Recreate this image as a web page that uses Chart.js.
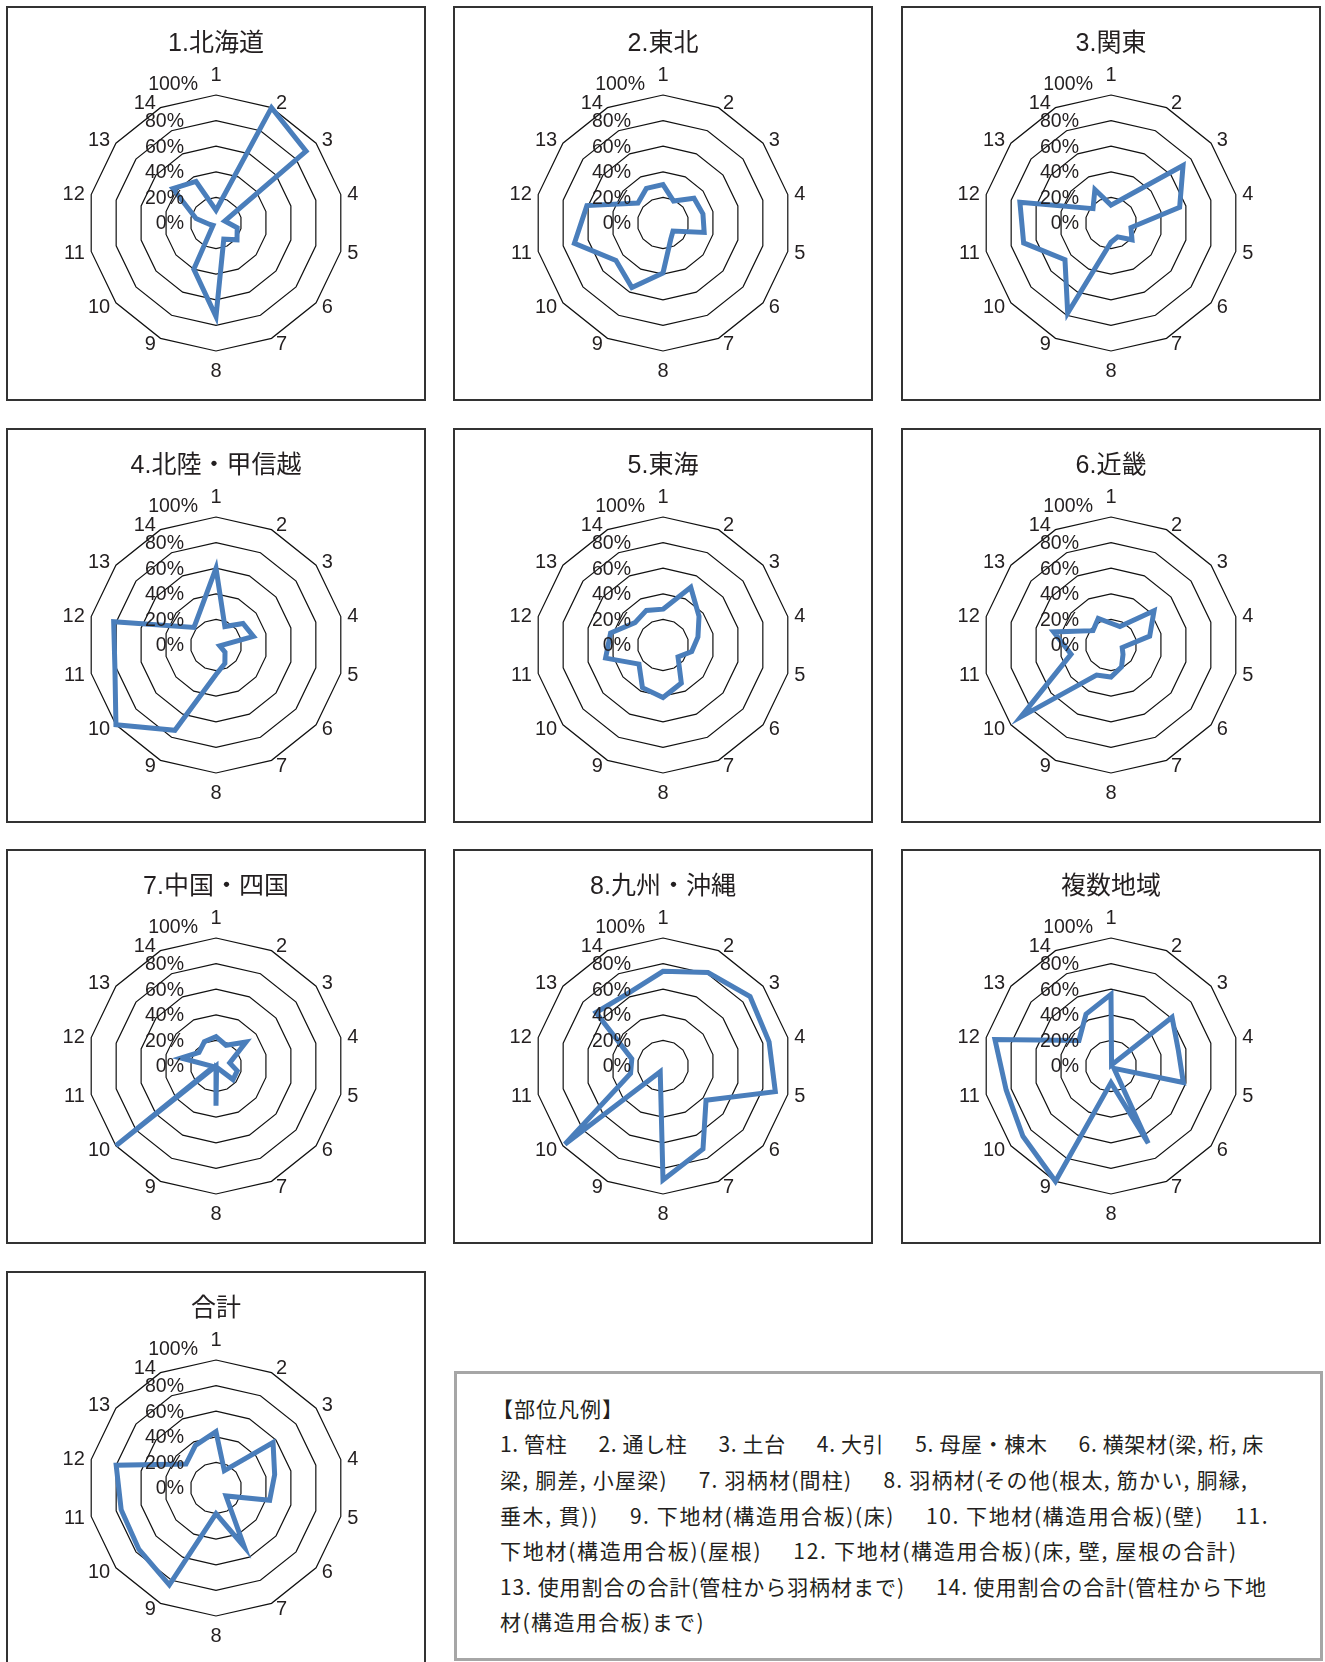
<!DOCTYPE html>
<html lang="ja">
<head>
<meta charset="utf-8">
<title>地域別 部位別使用割合</title>
<script src="https://cdn.jsdelivr.net/npm/chart.js@4.4.1/dist/chart.umd.min.js"></script>
<style>
  html, body { margin: 0; padding: 0; background: #fff; }
  body { width: 1325px; height: 1662px; position: relative; overflow: hidden; font-family: "Noto Sans CJK JP", sans-serif; color: #231f20; }
  .panel { position: absolute; width: 420px; height: 395px; box-sizing: border-box; border: 2px solid #333; background: #fff; }
  .panel canvas { position: absolute; left: 0; top: 0; }
  #legend { position: absolute; left: 454px; top: 1371px; width: 869px; height: 290px; box-sizing: border-box; border: 3px solid #a6a6a6; }
  .ln { position: absolute; left: 43px; white-space: nowrap; font-size: 21px; line-height: 36px; }
  .gap { display: inline-block; width: 31px; }
</style>
</head>
<body>

<div id="legend">
  <div class="ln" style="top:16px; left:35px; letter-spacing:1px">【部位凡例】</div>
  <div class="ln" style="top:51px" data-right="1264">1. 管柱<span class="gap"></span>2. 通し柱<span class="gap"></span>3. 土台<span class="gap"></span>4. 大引<span class="gap"></span>5. 母屋・棟木<span class="gap"></span>6. 横架材(梁, 桁, 床</div>
  <div class="ln" style="top:87px" data-right="1248">梁, 胴差, 小屋梁)<span class="gap"></span>7. 羽柄材(間柱)<span class="gap"></span>8. 羽柄材(その他(根太, 筋かい, 胴縁,</div>
  <div class="ln" style="top:123px" data-right="1269">垂木, 貫))<span class="gap"></span>9. 下地材(構造用合板)(床)<span class="gap"></span>10. 下地材(構造用合板)(壁)<span class="gap"></span>11.</div>
  <div class="ln" style="top:158px" data-right="1238">下地材(構造用合板)(屋根)<span class="gap"></span>12. 下地材(構造用合板)(床, 壁, 屋根の合計)</div>
  <div class="ln" style="top:194px" data-right="1267">13. 使用割合の合計(管柱から羽柄材まで)<span class="gap"></span>14. 使用割合の合計(管柱から下地</div>
  <div class="ln" style="top:229px" data-right="705">材(構造用合板)まで)</div>
</div>

<script>
// 部位 1..14 and the radial tick labels
const partLabels = ['1', '2', '3', '4', '5', '6', '7', '8', '9', '10', '11', '12', '13', '14'];
const tickLabels = ['0%', '20%', '40%', '60%', '80%', '100%'];

const titles = ['1.北海道', '2.東北', '3.関東', '4.北陸・甲信越', '5.東海', '6.近畿',
                '7.中国・四国', '8.九州・沖縄', '複数地域', '合計'];

// use ratio (%) per part
const hokkaido = [10, 100, 90, 7, 17, 21, 14, 73, 40, 3, 5, 16, 43, 36];
const tohoku   = [30, 19, 31, 32, 33, 10, 14, 39, 56, 47, 71, 61, 25, 30];
const kanto    = [14, 21, 72, 55, 16, 21, 12, 15, 78, 46, 70, 73, 18, 29];
const hokuriku = [60, 16, 27, 30, 3, 9, 16, 23, 74, 100, 81, 82, 22, 29];
const tokai    = [28, 50, 36, 28, 23, 15, 33, 41, 37, 24, 46, 42, 28, 30];
const kinki    = [17, 16, 43, 31, 9, 12, 19, 25, 26, 90, 32, 46, 18, 23];
const chugoku  = [23, 18, 30, 11, 17, 17, 1, 31, 0, 100, 2, 28, 17, 21];
const kyushu   = [74, 81, 87, 85, 90, 43, 72, 89, 5, 98, 26, 25, 67, 63];
const multi    = [56, 1, 61, 54, 58, 3, 67, 13, 100, 88, 84, 93, 32, 45];
const total    = [44, 15, 57, 47, 43, 10, 51, 20, 84, 77, 76, 80, 30, 37];

const seriesList = [hokkaido, tohoku, kanto, hokuriku, tokai, kinki, chugoku, kyushu, multi, total];

const colLefts = [6, 453, 901];
const rowTops = [6, 428, 849, 1271];

const numFont = '"Liberation Sans", "Noto Sans CJK JP", sans-serif';

// tick labels sit left of the vertical axis, part numbers just outside the outer ring
const radarText = {
  id: 'radarText',
  afterDraw(chart) {
    const r = chart.scales.r;
    const ctx = chart.ctx;
    const R = r.drawingArea;
    ctx.save();
    ctx.fillStyle = '#231f20';
    ctx.textBaseline = 'middle';

    ctx.font = '19.5px ' + numFont;
    ctx.textAlign = 'right';
    r.ticks.forEach((t, i) => {
      const d = r.getDistanceFromCenterForValue(t.value);
      const last = i === r.ticks.length - 1;
      const x = r.xCenter - (last ? 18 : 32);
      const y = r.yCenter - d + (last ? -10 : 1);
      ctx.fillText(tickLabels[i], x, y);
    });

    ctx.font = '20px ' + numFont;
    ctx.textAlign = 'center';
    partLabels.forEach((lab, i) => {
      const p = r.getPointPosition(i, R);
      const w = ctx.measureText(lab).width;
      const cx = Math.cos(p.angle), cy = Math.sin(p.angle);
      let dx = 0, dy;
      if (Math.abs(cx) < 0.01) {
        dy = cy * 20;
      } else {
        dx = Math.sign(cx) * (w / 2 + 3 + 3.5 * Math.abs(cx));
        dy = cy * 6 + 1;
      }
      ctx.fillText(lab, p.x + dx, p.y + dy);
    });
    ctx.restore();
  }
};

seriesList.forEach((values, k) => {
  const panel = document.createElement('div');
  panel.className = 'panel';
  panel.style.left = colLefts[k % 3] + 'px';
  panel.style.top = rowTops[Math.floor(k / 3)] + 'px';
  const canvas = document.createElement('canvas');
  canvas.width = 416;
  canvas.height = 391;
  panel.appendChild(canvas);
  document.body.appendChild(panel);

  new Chart(canvas, {
    type: 'radar',
    data: {
      labels: partLabels,
      datasets: [{
        data: values,
        borderColor: '#4a7ebb',
        borderWidth: 5,
        borderJoinStyle: 'miter',
        backgroundColor: 'rgba(0,0,0,0)',
        fill: false,
        pointRadius: 0,
        tension: 0,
        clip: false
      }]
    },
    options: {
      responsive: false,
      animation: false,
      devicePixelRatio: 1,
      layout: { padding: { left: 80, right: 80, top: 0, bottom: 48 } },
      plugins: {
        legend: { display: false },
        tooltip: { enabled: false },
        title: {
          display: true,
          text: titles[k],
          color: '#231f20',
          font: { family: numFont, size: 25, weight: 'normal' },
          padding: { top: 21, bottom: 36 }
        }
      },
      scales: {
        r: {
          min: 0,
          max: 100,
          startAngle: 0,
          ticks: { stepSize: 20, display: false },
          pointLabels: { display: false },
          angleLines: { display: false },
          grid: { circular: false, color: '#111', lineWidth: 1.2 }
        }
      }
    },
    plugins: [radarText]
  });
});

// stretch each legend line so it ends where the original wraps
document.querySelectorAll('.ln[data-right]').forEach(el => {
  const target = +el.dataset.right - 500;
  const natural = el.getBoundingClientRect().width;
  const n = el.textContent.length;
  el.style.letterSpacing = ((target - natural) / n).toFixed(2) + 'px';
});
</script>
</body>
</html>
